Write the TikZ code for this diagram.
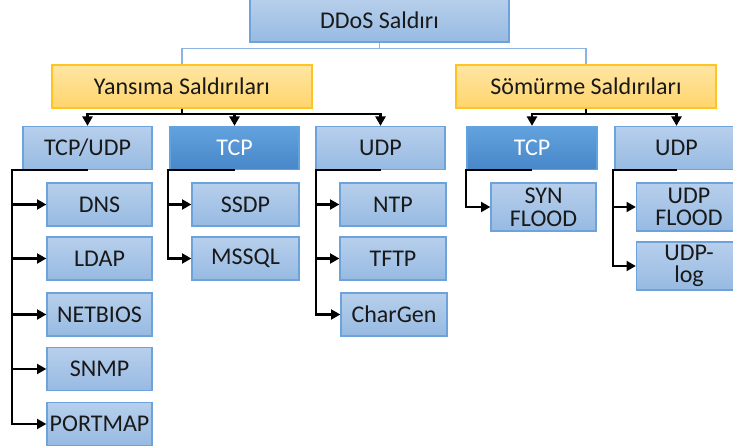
\documentclass[tikz,border=0pt]{standalone}
\usepackage{fontspec}
\setmainfont{Carlito}
\usepackage{tikz}
\usetikzlibrary{arrows.meta,positioning}

\definecolor{boxtop}{HTML}{B7CFEC}
\definecolor{boxbot}{HTML}{97BAE2}
\definecolor{boxline}{HTML}{6EA2DA}
\definecolor{darktop}{HTML}{62A2DE}
\definecolor{darkbot}{HTML}{4887C8}
\definecolor{orgtop}{HTML}{FFE6A3}
\definecolor{orgbot}{HTML}{FFD46C}
\definecolor{orgline}{HTML}{FFC41F}
\definecolor{rootline}{HTML}{8DB3E2}

\begin{document}
\begin{tikzpicture}[x=0.75pt,y=-0.75pt]
	\tikzset{
		box/.style={draw=boxline,line width=1pt,top color=boxtop,bottom color=boxbot,
			minimum width=#1,minimum height=43*0.75pt,inner sep=0pt,align=center,
			font=\fontsize{18}{17}\selectfont,text=black!90},
		box/.default={105*0.75pt},
		darkbox/.style={box=#1,draw=darktop,top color=darktop,bottom color=darkbot,text=white},
		darkbox/.default={130*0.75pt},
		groupbox/.style={box=260*0.75pt,draw=orgline,top color=orgtop,bottom color=orgbot},
		tallbox/.style={box,minimum height=48*0.75pt},
		tree/.style={line width=1.6pt,-{Triangle[length=7pt,width=7.5pt]}},
		rootlink/.style={draw=rootline,line width=1.2pt}
	}
	\useasboundingbox (0,0) rectangle (733,448);

	%% top levels
	\node[box=259*0.75pt] (root) at (379.5,20.5) {DDoS Saldırı};
	\node[groupbox] (yans) at (182,86.5) {Yansıma Saldırıları};
	\node[groupbox] (somur) at (586,86.5) {Sömürme Saldırıları};
	\draw[rootlink] (root.south) -- ++(0,6) -| (yans.north);
	\draw[rootlink] (root.south) -- ++(0,6) -| (somur.north);

	%% protocol boxes
	\node[box=129*0.75pt] (tcpudp) at (87.5,148) {TCP/UDP};
	\node[darkbox=129*0.75pt] (tcpa) at (234.5,148) {TCP};
	\node[box=129*0.75pt] (udpa) at (380.5,148) {UDP};
	\node[darkbox] (tcpb) at (532,148) {TCP};
	\node[box=123*0.75pt] (udpb) at (676.5,148) {UDP};
	\foreach \p in {tcpudp,tcpa,udpa}
		\draw[tree] (yans.south) -- ++(0,5) -| (\p.north);
	\foreach \p in {tcpb,udpb}
		\draw[tree] (somur.south) -- ++(0,5) -| (\p.north);

	%% attack boxes
	\node[box] (dns) at (99.5,204.5) {DNS};
	\node[box] (ldap) at (99.5,258.5) {LDAP};
	\node[box] (netbios) at (99.5,314.5) {NETBIOS};
	\node[box] (snmp) at (99.5,369) {SNMP};
	\node[box] (portmap) at (99.5,424) {PORTMAP};
	\node[box=107*0.75pt] (ssdp) at (245.5,204.5) {SSDP};
	\node[box=107*0.75pt] (mssql) at (245.5,258.5) {MSSQL};
	\node[box=106*0.75pt] (ntp) at (393,204.5) {NTP};
	\node[box=106*0.75pt] (tftp) at (393,258.5) {TFTP};
	\node[box=106*0.75pt] (chargen) at (394,314.5) {CharGen};
	\node[tallbox] (syn) at (543.5,207) {SYN\\FLOOD};
	\node[tallbox] (udpflood) at (689,207) {UDP\\FLOOD};
	\node[tallbox] (udplog) at (689,266) {UDP-\\log};

	\foreach \c in {dns,ldap,netbios,snmp,portmap}
		\draw[tree] (tcpudp.south) -- ++(-75.5,0) |- (\c.west);
	\foreach \c in {ssdp,mssql}
		\draw[tree] (tcpa.south) -- ++(-66.5,0) |- (\c.west);
	\foreach \c in {ntp,tftp,chargen}
		\draw[tree] (udpa.south) -- ++(-64.5,0) |- (\c.west);
	\draw[tree] (tcpb.south) -- ++(-66,0) |- (syn.west);
	\foreach \c in {udpflood,udplog}
		\draw[tree] (udpb.south) -- ++(-63.5,0) |- (\c.west);
\end{tikzpicture}
\end{document}
